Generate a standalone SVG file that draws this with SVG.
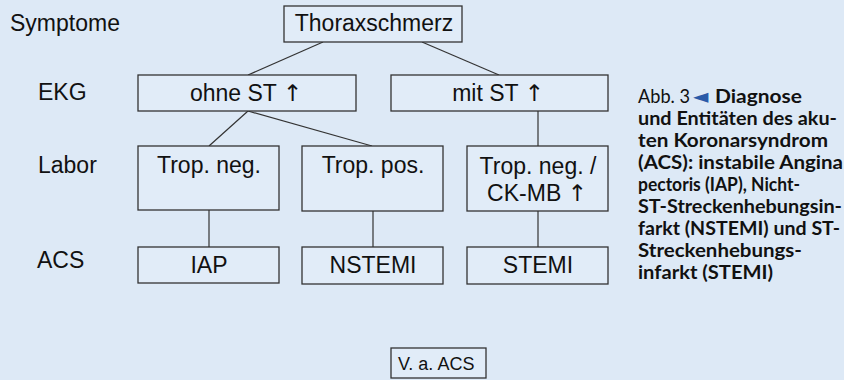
<svg xmlns="http://www.w3.org/2000/svg" width="844" height="380" viewBox="0 0 844 380">
  <style>
    .bg { fill: #dde9f6; }
    .box { fill: #e1ecf8; stroke: #333333; stroke-width: 1.3; }
    .edge { stroke: #333333; stroke-width: 1.2; fill: none; }
    .t { font-family: "Liberation Sans", Arial, sans-serif; font-size: 23px; fill: #111111; }
    .c { text-anchor: middle; }
    .arr { font-family: "DejaVu Sans", sans-serif; font-size: 23px; }
    .cap { font-family: Lato, "Open Sans", sans-serif; font-size: 19.5px; font-weight: 700; fill: #111111; }
  </style>

  <rect class="bg" x="0" y="0" width="844" height="380"/>

  <!-- row labels -->
  <g id="row-labels">
    <text class="t" x="10" y="31">Symptome</text>
    <text class="t" x="38" y="100">EKG</text>
    <text class="t" x="38" y="173">Labor</text>
    <text class="t" x="37" y="268">ACS</text>
  </g>

  <!-- connectors -->
  <g id="connectors">
    <line class="edge" x1="323" y1="42" x2="248" y2="75"/>
    <line class="edge" x1="422" y1="42" x2="499" y2="75"/>
    <line class="edge" x1="248" y1="111" x2="209" y2="146"/>
    <line class="edge" x1="248" y1="111" x2="372" y2="146"/>
    <line class="edge" x1="538" y1="111" x2="538" y2="146"/>
    <line class="edge" x1="209" y1="210" x2="209" y2="247"/>
    <line class="edge" x1="373" y1="211" x2="373" y2="247"/>
    <line class="edge" x1="538" y1="211" x2="538" y2="247"/>
  </g>

  <g id="thoraxschmerz">
    <rect class="box" x="284" y="6" width="178" height="36"/>
    <text class="t c" x="374" y="31">Thoraxschmerz</text>
  </g>

  <g id="ohne-st">
    <rect class="box" x="138" y="75" width="218" height="36"/>
    <text class="t c" x="246" y="101">ohne ST <tspan class="arr">↑</tspan></text>
  </g>

  <g id="mit-st">
    <rect class="box" x="391" y="75" width="217" height="36"/>
    <text class="t c" x="498" y="101">mit ST <tspan class="arr">↑</tspan></text>
  </g>

  <g id="trop-neg">
    <rect class="box" x="138" y="146" width="141" height="64"/>
    <text class="t c" x="209" y="173">Trop. neg.</text>
  </g>

  <g id="trop-pos">
    <rect class="box" x="302" y="146" width="141" height="65"/>
    <text class="t c" x="373" y="173">Trop. pos.</text>
  </g>

  <g id="trop-neg-ckmb">
    <rect class="box" x="467" y="146" width="141" height="65"/>
    <text class="t c" x="538" y="174">Trop. neg. /</text>
    <text class="t c" x="537" y="201">CK-MB <tspan class="arr">↑</tspan></text>
  </g>

  <g id="iap">
    <rect class="box" x="138" y="247" width="141" height="36"/>
    <text class="t c" x="209" y="273">IAP</text>
  </g>

  <g id="nstemi">
    <rect class="box" x="302" y="247" width="141" height="37"/>
    <text class="t c" x="373" y="273">NSTEMI</text>
  </g>

  <g id="stemi">
    <rect class="box" x="467" y="247" width="141" height="37"/>
    <text class="t c" x="538" y="273">STEMI</text>
  </g>

  <g id="va-acs">
    <rect class="box" x="391" y="348" width="95" height="30"/>
    <text class="t" x="398" y="370" style="font-size:18px">V. a. ACS</text>
  </g>

  <!-- figure caption -->
  <g id="caption">
    <text class="cap" x="638" y="103"><tspan font-weight="400" textLength="52" lengthAdjust="spacingAndGlyphs">Abb. 3</tspan><tspan x="693" font-family="'DejaVu Sans', sans-serif" font-size="20" fill="#2a5aa8">◄</tspan><tspan x="715" textLength="87" lengthAdjust="spacingAndGlyphs">Diagnose</tspan></text>
    <text class="cap" x="638" y="125" textLength="199" lengthAdjust="spacingAndGlyphs">und Entitäten des aku-</text>
    <text class="cap" x="638" y="147" textLength="190" lengthAdjust="spacingAndGlyphs">ten Koronarsyndrom</text>
    <text class="cap" x="638" y="169" textLength="205" lengthAdjust="spacingAndGlyphs">(ACS): instabile Angina</text>
    <text class="cap" x="638" y="191" textLength="162" lengthAdjust="spacingAndGlyphs">pectoris (IAP), Nicht-</text>
    <text class="cap" x="638" y="213" textLength="204" lengthAdjust="spacingAndGlyphs">ST-Streckenhebungsin-</text>
    <text class="cap" x="638" y="235" textLength="202" lengthAdjust="spacingAndGlyphs">farkt (NSTEMI) und ST-</text>
    <text class="cap" x="638" y="257" textLength="164" lengthAdjust="spacingAndGlyphs">Streckenhebungs-</text>
    <text class="cap" x="638" y="279" textLength="135" lengthAdjust="spacingAndGlyphs">infarkt (STEMI)</text>
  </g>
</svg>
